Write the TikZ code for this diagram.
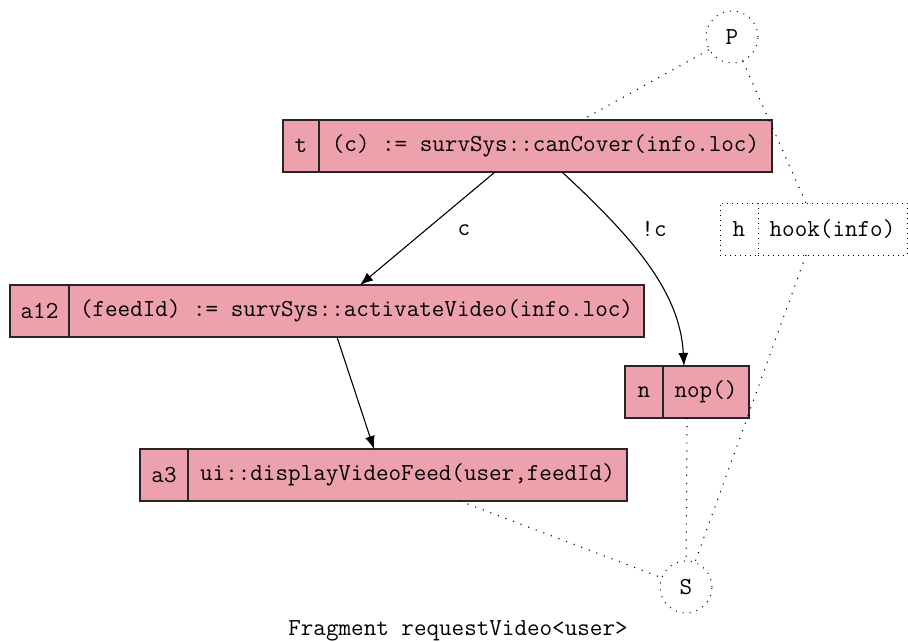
\documentclass[tikz,border=0pt]{standalone}
\usepackage{fontspec}
\usetikzlibrary{calc,arrows.meta}
\definecolor{boxpink}{RGB}{237,161,173}
\tikzset{
  txt/.style={font=\ttfamily\fontsize{24.4}{26}\selectfont},
  part/.style={txt, rectangle, fill=boxpink, draw=black!85, line width=1.2pt,
    minimum height=52pt, inner sep=0pt, outer sep=0pt, anchor=center},
  hookpart/.style={txt, rectangle, fill=white, draw=black, line width=1pt,
    dash pattern=on 1pt off 4pt, minimum height=52pt, inner sep=0pt, outer sep=0pt},
  endpt/.style={txt, circle, draw=black, line width=1pt, dash pattern=on 1pt off 6pt,
    minimum size=52pt, inner sep=0pt},
  flow/.style={line width=1.1pt, -{Latex[length=13pt,width=10pt]}},
  link/.style={line width=1.1pt, dash pattern=on 1.1pt off 7pt},
  lbl/.style={txt}
}
\begin{document}
\begin{tikzpicture}[x=1pt,y=-1pt]
\useasboundingbox (0,0) rectangle (908,642);
% hook (dotted)
\node[hookpart, minimum width=38pt] (hl) at (739,229) {h};
\node[hookpart, minimum width=149pt] (hb) at (832.5,229) {hook(info)};
% t
\node[part, minimum width=36pt] (tl) at (301,146) {t};
\node[part, minimum width=453pt] (tb) at (545.5,146) {(c) := survSys::canCover(info.loc)};
% a12
\node[part, minimum width=59pt] (al) at (39.5,311) {a12};
\node[part, minimum width=575pt] (ab) at (356.5,311) {(feedId) := survSys::activateVideo(info.loc)};
% a3
\node[part, minimum width=48pt] (a3l) at (164,475) {a3};
\node[part, minimum width=439pt] (a3b) at (407.5,475) {ui::displayVideoFeed(user,feedId)};
% n
\node[part, minimum width=38pt] (nl) at (644,392) {n};
\node[part, minimum width=86pt] (nb) at (706,392) {nop()};
% endpoints
\node[endpt] (P) at (732,37) {P};
\node[endpt] (S) at (686,587) {S};
% caption
\node[txt] (cap) at (458,631) {Fragment requestVideo<user>};
% flows
\draw[flow] ($(tb.south)+(-50.5,0)$) -- ($(ab.north)+(3.5,0)$);
\node[lbl] (lc) at (464,230) {c};
\draw[flow] ($(tb.south)+(16.5,0)$) .. controls (630,235) and (680,290) .. ($(nb.north)+(-22,0)$);
\node[lbl] (lnc) at (654,229) {!c};
\draw[flow] ($(ab.south)+(-19.5,0)$) -- ($(a3b.north)+(-33.5,0)$);
% dotted links
\draw[link] (P) -- ($(tb.north)+(36.5,0)$);
\draw[link] (P) -- ($(hb.north)+(-26.5,0)$);
\draw[link] ($(a3b.south)+(52.5,0)$) -- (S);
\draw[link] ($(nb.south)+(-19,0)$) -- (S);
\draw[link] ($(hb.south)+(-26.5,0)$) -- (S);
\end{tikzpicture}
\end{document}
